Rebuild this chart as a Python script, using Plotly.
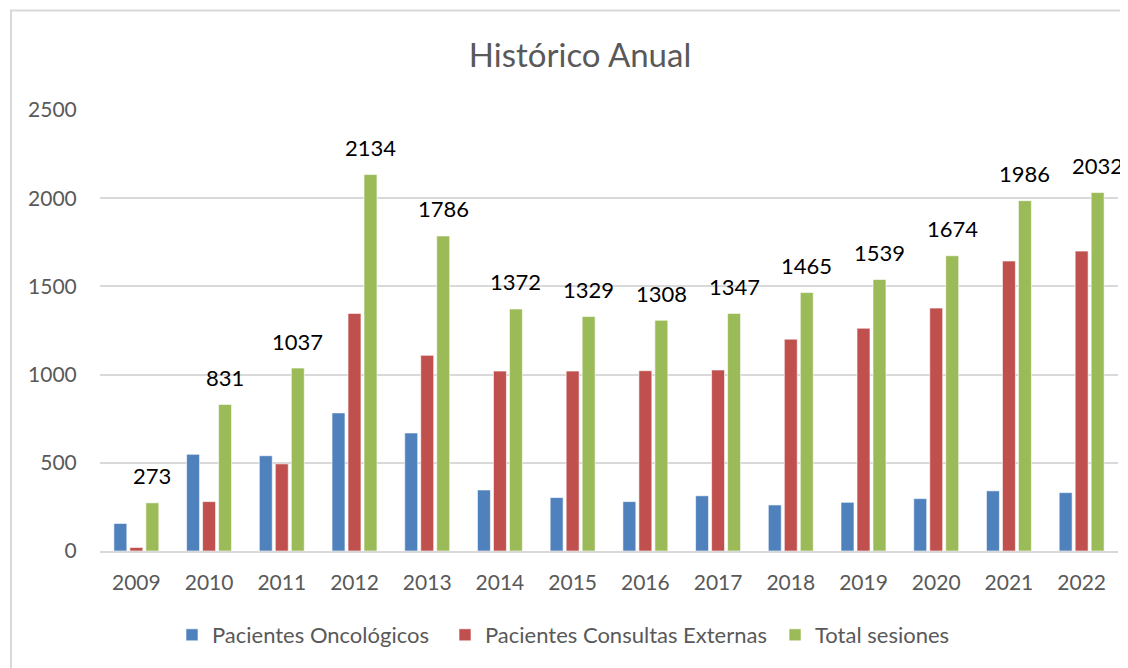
import plotly.graph_objects as go

# Data
years = ["2009", "2010", "2011", "2012", "2013", "2014", "2015",
         "2016", "2017", "2018", "2019", "2020", "2021", "2022"]
oncologicos = [156, 548, 540, 783, 669, 346, 303, 280, 313, 261, 276, 297, 341, 331]
consultas_externas = [20, 280, 494, 1347, 1109, 1020, 1020, 1022, 1026, 1201, 1263, 1377, 1644, 1700]
total_sesiones = [273, 831, 1037, 2134, 1786, 1372, 1329, 1308, 1347, 1465, 1539, 1674, 1986, 2032]

FONT = "Lato"
GREY_TEXT = "#595959"
GRID = "#D9D9D9"

fig = go.Figure()

# one legend per series so each entry can sit where the reference has it
series = [
    ("Pacientes Oncológicos", oncologicos, "#4F81BD", "legend", 0.0707),
    ("Pacientes Consultas Externas", consultas_externas, "#C0504D", "legend2", 0.3389),
    ("Total sesiones", total_sesiones, "#9BBB59", "legend3", 0.6631),
]
legend_cfg = {}
for name, vals, color, leg, lx in series:
    fig.add_trace(
        go.Bar(
            x=years,
            y=vals,
            name=name,
            legend=leg,
            marker=dict(color=color, line=dict(color="white", width=0.6)),
        )
    )
    legend_cfg[leg] = dict(
        orientation="h",
        x=lx, xanchor="left",
        y=-0.1905, yanchor="middle",
        font=dict(family=FONT, size=22, color=GREY_TEXT),
        bgcolor="rgba(0,0,0,0)",
    )

# Data labels above the green bars only (x given as category index,
# otherwise "2009" is read as a numeric position on the category axis)
for i, v in enumerate(total_sesiones):
    fig.add_annotation(
        x=i, y=v, text=str(v), showarrow=False,
        xshift=16, yshift=27, yanchor="middle",
        font=dict(family=FONT, size=22, color="black"),
    )

# Outer chart border (left/top visible)
fig.add_shape(
    type="rect", xref="paper", yref="paper",
    x0=-0.0874, y0=-0.6, x1=1.2, y1=1.2256,
    line=dict(color=GRID, width=2), fillcolor="rgba(0,0,0,0)", layer="below",
)

fig.update_layout(
    width=1120,
    height=660,
    margin=dict(l=92, r=10, t=102, b=117),
    paper_bgcolor="white",
    plot_bgcolor="white",
    barmode="group",
    bargap=0.34,
    bargroupgap=0.19,
    title=dict(
        text="Histórico Anual",
        x=572 / 1120, xanchor="center",
        y=1 - 47 / 660, yanchor="middle",
        font=dict(family=FONT, size=33, color=GREY_TEXT),
    ),
    font=dict(family=FONT, color=GREY_TEXT),
    showlegend=True,
    **legend_cfg,
)

fig.update_xaxes(
    type="category",
    range=[-0.5, len(years) - 0.5],
    showgrid=False,
    showline=True,
    linecolor=GRID,
    linewidth=2,
    ticks="outside",
    ticklen=12,
    tickcolor="rgba(0,0,0,0)",
    tickfont=dict(family=FONT, size=21, color=GREY_TEXT),
)

fig.update_yaxes(
    range=[0, 2500],
    dtick=500,
    showgrid=True,
    gridcolor=GRID,
    gridwidth=1.5,
    zeroline=False,
    showline=False,
    ticks="outside",
    ticklen=18,
    tickcolor="rgba(0,0,0,0)",
    tickfont=dict(family=FONT, size=21, color=GREY_TEXT),
)

fig.write_html("out.html")
